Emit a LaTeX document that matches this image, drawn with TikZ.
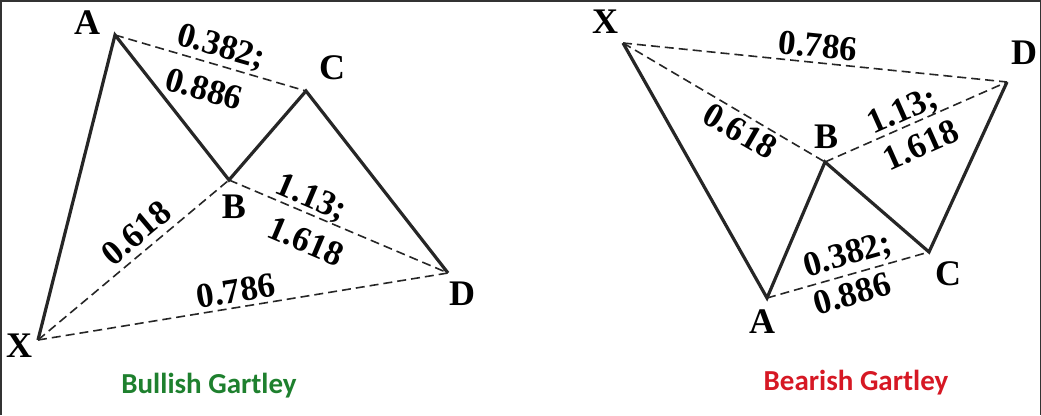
\documentclass[tikz,border=0pt]{standalone}
\usepackage{fontspec}
\setmainfont{Liberation Serif}
\newfontfamily\titlefont{Carlito}
\definecolor{bullgreen}{RGB}{30,128,46}
\definecolor{bearred}{RGB}{214,24,36}
\begin{document}
\begin{tikzpicture}[x=1pt, y=-1pt,
    leg/.style={line width=3.2pt, black!85},
    ratio/.style={line width=1.6pt, black!85, dash pattern=on 9pt off 5pt},
    pt/.style={font=\fontsize{36}{36}\selectfont\bfseries, inner sep=0pt},
    num/.style={font=\fontsize{35}{35}\selectfont\bfseries, inner sep=0pt},
    ttl/.style={font=\fontsize{29}{29}\selectfont\titlefont\bfseries, inner sep=0pt}]
    \useasboundingbox (0,0) rectangle (1041,415);
    \draw[line width=1.5pt, black!80] (0.75,415) -- (0.75,0.75) -- (1040.25,0.75) -- (1040.25,415);
    % bullish
    \coordinate (bullX) at (38,340);
    \coordinate (bullA) at (115,35);
    \coordinate (bullB) at (229,180);
    \coordinate (bullC) at (306,91);
    \coordinate (bullD) at (448,273);
    \draw[ratio] (bullA) -- (bullC);
    \draw[ratio] (bullX) -- (bullB);
    \draw[ratio] (bullB) -- (bullD);
    \draw[ratio] (bullX) -- (bullD);
    \draw[leg] (bullX) -- (bullA) -- (bullB) -- (bullC) -- (bullD);
    \node[pt] (bullXl) at (19,346){X};
    \node[pt] (bullAl) at (87,23){A};
    \node[pt] (bullBl) at (234,207){B};
    \node[pt] (bullCl) at (332,68){C};
    \node[pt] (bullDl) at (462,294){D};
    \node[num, rotate=-16] (bullAC1) at (221,48){0.382;};
    \node[num, rotate=-16] (bullAC2) at (204,89){0.886};
    \node[num, rotate=40] (bullXB) at (136,233){0.618};
    \node[num, rotate=-23] (bullBD1) at (311,199){1.13;};
    \node[num, rotate=-23] (bullBD2) at (306,241){1.618};
    \node[num, rotate=9] (bullXD) at (236,291){0.786};
    \node[ttl, bullgreen] (bullT) at (209,386){Bullish Gartley};
    % bearish
    \coordinate (bearX) at (623,43);
    \coordinate (bearA) at (767,298);
    \coordinate (bearB) at (825,162);
    \coordinate (bearC) at (929,252);
    \coordinate (bearD) at (1007,82);
    \draw[ratio] (bearX) -- (bearD);
    \draw[ratio] (bearX) -- (bearB);
    \draw[ratio] (bearB) -- (bearD);
    \draw[ratio] (bearA) -- (bearC);
    \draw[leg] (bearX) -- (bearA) -- (bearB) -- (bearC) -- (bearD);
    \node[pt] (bearXl) at (605,22){X};
    \node[pt] (bearAl) at (762,322){A};
    \node[pt] (bearBl) at (826,137){B};
    \node[pt] (bearCl) at (948,274){C};
    \node[pt] (bearDl) at (1024,53){D};
    \node[num, rotate=-6] (bearXD) at (818,46){0.786};
    \node[num, rotate=-30] (bearXB) at (740,131){0.618};
    \node[num, rotate=24] (bearBD1) at (903,112){1.13;};
    \node[num, rotate=24] (bearBD2) at (921,145){1.618};
    \node[num, rotate=16] (bearAC1) at (848,256){0.382;};
    \node[num, rotate=16] (bearAC2) at (852,294){0.886};
    \node[ttl, bearred] (bearT) at (856,383){Bearish Gartley};
  \end{tikzpicture}
\end{document}
